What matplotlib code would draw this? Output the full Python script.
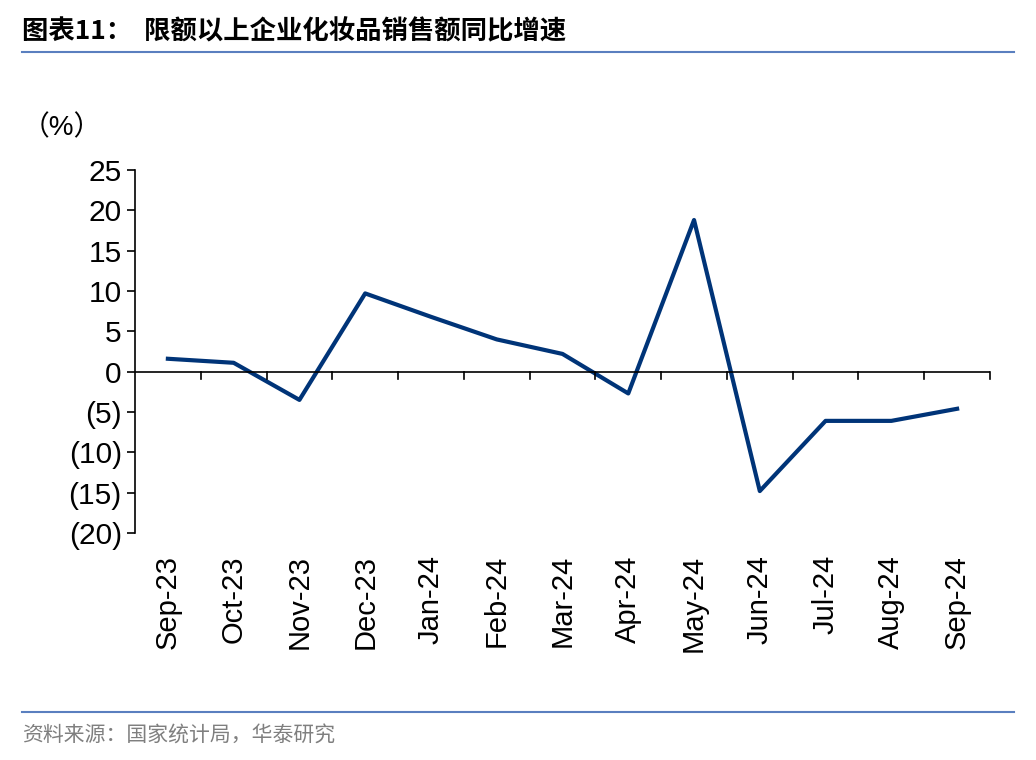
import matplotlib.pyplot as plt
import numpy as np

months = ['Sep-23', 'Oct-23', 'Nov-23', 'Dec-23', 'Jan-24', 'Feb-24', 'Mar-24',
          'Apr-24', 'May-24', 'Jun-24', 'Jul-24', 'Aug-24', 'Sep-24']
growth = [1.6, 1.1, -3.5, 9.7, 6.8, 4.0, 2.2, -2.7, 18.8, -14.8, -6.1, -6.1, -4.6]
yticks = [25, 20, 15, 10, 5, 0, -5, -10, -15, -20]
ylabels = ['25', '20', '15', '10', '5', '0', '(5)', '(10)', '(15)', '(20)']

plt.rcParams['font.family'] = ['Liberation Sans', 'Noto Sans CJK SC']
W, H = 1036, 760
fig = plt.figure(figsize=(W / 100, H / 100), dpi=100)
ax = fig.add_axes([135 / W, 1 - 533 / H, (990 - 135) / W, (533 - 170) / H])

x = np.arange(len(months))
ax.plot(x, growth, color='#003478', lw=3)
ax.set_xlim(-0.5, len(months) - 0.5)
ax.set_ylim(-20, 25)
ax.set_yticks(yticks)
ax.set_yticklabels(ylabels, fontsize=21.5)
ax.tick_params(axis='y', direction='out', length=6, width=1.2, color='black')
for s in ['top', 'right', 'bottom']:
    ax.spines[s].set_visible(False)
ax.spines['left'].set_linewidth(1.2)
ax.axhline(0, color='black', lw=1.2)
# tick marks on zero line between categories
for b in np.arange(0.5, len(months), 1):
    ax.plot([b, b], [0, -0.9], color='black', lw=1.2, clip_on=False)
ax.set_xticks(x)
ax.set_xticklabels(months, rotation=90, fontsize=21)
ax.tick_params(axis='x', length=0, pad=16)

fig.text(62 / W, 1 - 128 / H, '（%）', fontsize=20, ha='center', va='center')
fig.text(22 / W, 1 - 32 / H, '图表11：  限额以上企业化妆品销售额同比增速',
         fontsize=19, fontweight='bold', ha='left', va='center',
         family='Noto Sans CJK SC')
fig.add_artist(plt.Line2D([22 / W, 1014 / W], [1 - 52 / H] * 2, color='#5a7fbf', lw=1.5))
fig.add_artist(plt.Line2D([22 / W, 1014 / W], [1 - 712 / H] * 2, color='#5a7fbf', lw=1.5))
fig.text(22 / W, 1 - 736 / H, '资料来源：国家统计局，华泰研究', fontsize=15,
         color='#7f7f7f', ha='left', va='center', family='Noto Sans CJK SC')

fig.savefig('out.png', dpi=100)
